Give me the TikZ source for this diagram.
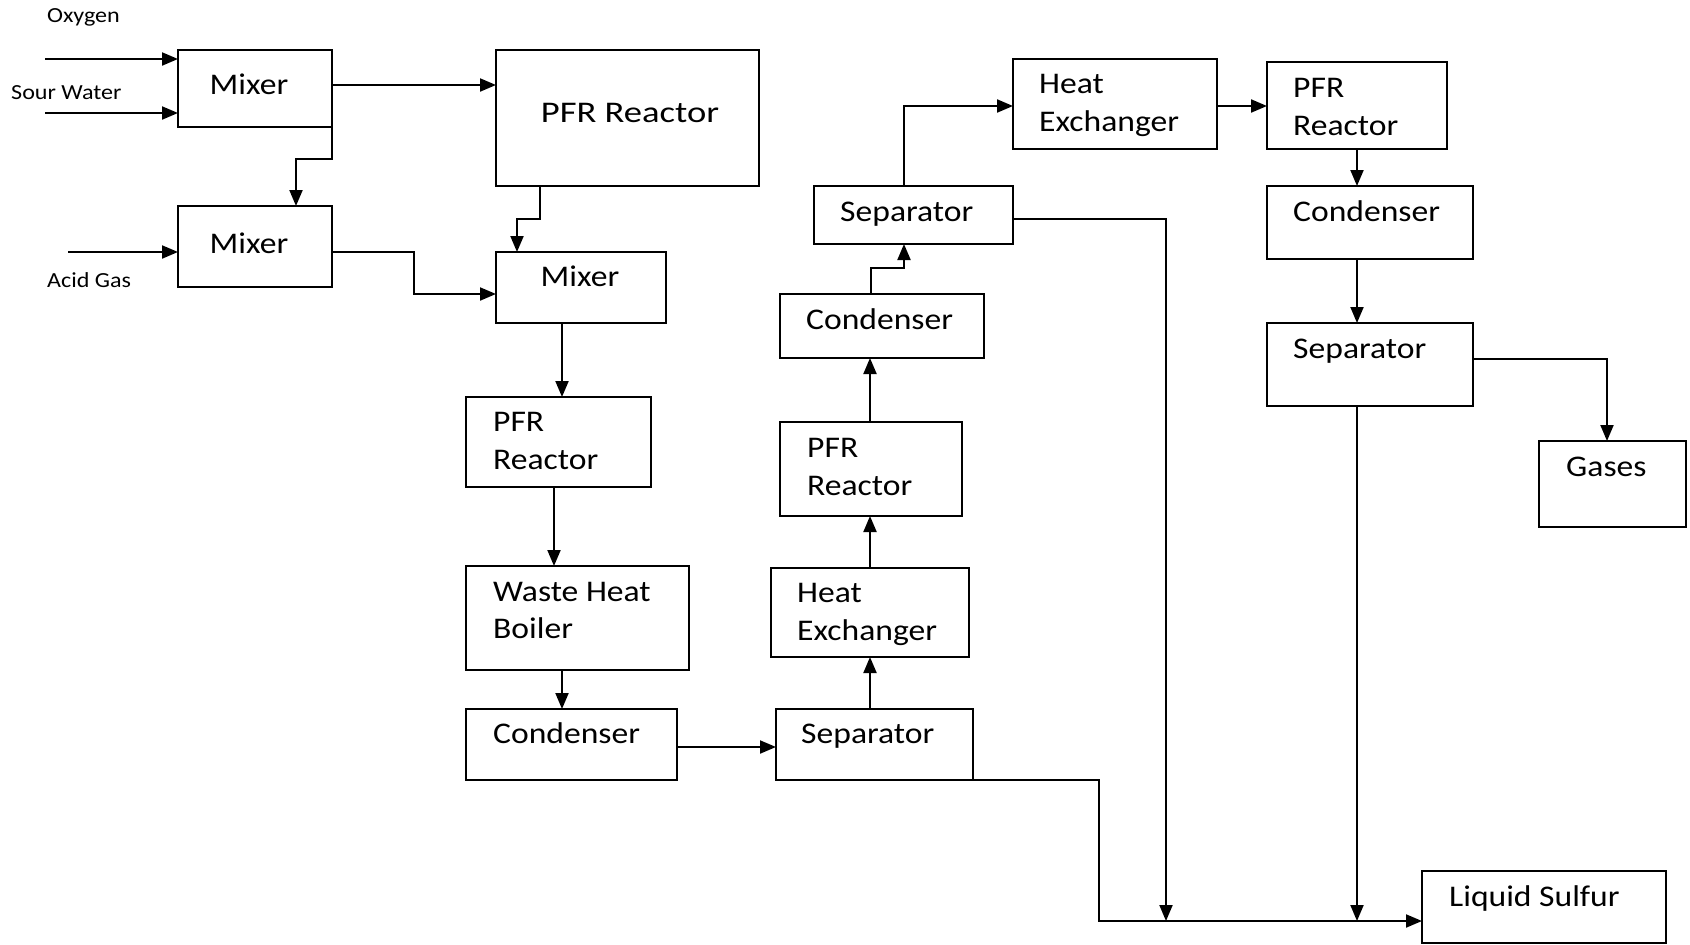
\documentclass[tikz,border=0pt]{standalone}
\usepackage{fontspec}
\setmainfont[FakeStretch=1.12]{Carlito}
\newfontfamily\widefont[FakeStretch=1.22]{Carlito}
\usetikzlibrary{arrows.meta,calc}
\tikzset{
  box/.style={draw=black, line width=2pt, rectangle, inner sep=0pt, outer sep=0pt, anchor=north west},
  txt/.style={anchor=base west, inner sep=0pt, font=\fontsize{30}{36}\selectfont},
  ctxt/.style={anchor=base, inner sep=0pt, font=\fontsize{30}{36}\selectfont},
  stxt/.style={anchor=base west, inner sep=0pt, font=\fontsize{21.5}{26}\selectfont},
  con/.style={line width=2pt, draw=black},
  arr/.style={con, -{Triangle[length=16pt,width=13pt]}}
}
\begin{document}
\begin{tikzpicture}[x=1pt,y=-1pt]
\useasboundingbox (0,0) rectangle (1690,945);
% boxes
\node[box, minimum width=154pt, minimum height=77pt] (m1) at (178,50) {};
\node[box, minimum width=154pt, minimum height=81pt] (m2) at (178,206) {};
\node[box, minimum width=263pt, minimum height=136pt] (pfr1) at (496,50) {};
\node[box, minimum width=170pt, minimum height=71pt] (m3) at (496,252) {};
\node[box, minimum width=185pt, minimum height=90pt] (pfr2) at (466,397) {};
\node[box, minimum width=223pt, minimum height=104pt] (whb) at (466,566) {};
\node[box, minimum width=211pt, minimum height=71pt] (c1) at (466,709) {};
\node[box, minimum width=197pt, minimum height=71pt] (s1) at (776,709) {};
\node[box, minimum width=198pt, minimum height=89pt] (hx1) at (771,568) {};
\node[box, minimum width=182pt, minimum height=94pt] (pfr3) at (780,422) {};
\node[box, minimum width=204pt, minimum height=64pt] (c2) at (780,294) {};
\node[box, minimum width=199pt, minimum height=58pt] (s2) at (814,186) {};
\node[box, minimum width=204pt, minimum height=90pt] (hx2) at (1013,59) {};
\node[box, minimum width=180pt, minimum height=87pt] (pfr4) at (1267,62) {};
\node[box, minimum width=206pt, minimum height=73pt] (c3) at (1267,186) {};
\node[box, minimum width=206pt, minimum height=83pt] (s3) at (1267,323) {};
\node[box, minimum width=147pt, minimum height=86pt] (gas) at (1539,441) {};
\node[box, minimum width=244pt, minimum height=72pt] (ls) at (1422,871) {};
% texts
\node[stxt] (tox) at (47,22) {Oxygen};
\node[stxt] (tsw) at (11,99) {Sour Water};
\node[stxt] (tag) at (47,287) {Acid Gas};
\node[ctxt] (tm1) at (249,94) {Mixer};
\node[ctxt] (tm2) at (249,253) {Mixer};
\node[ctxt, font=\widefont\fontsize{30}{36}\selectfont] (tpfr1) at (630,122) {PFR Reactor};
\node[ctxt] (tm3) at (580,286) {Mixer};
\node[txt] (tpfr2a) at (493,431) {PFR};
\node[txt] (tpfr2b) at (493,469) {Reactor};
\node[txt] (twhba) at (493,601) {Waste Heat};
\node[txt] (twhbb) at (493,638) {Boiler};
\node[txt] (tc1) at (493,743) {Condenser};
\node[txt] (ts1) at (801,743) {Separator};
\node[txt] (thx1a) at (797,602) {Heat};
\node[txt] (thx1b) at (797,640) {Exchanger};
\node[txt] (tpfr3a) at (807,457) {PFR};
\node[txt] (tpfr3b) at (807,495) {Reactor};
\node[txt] (tc2) at (806,329) {Condenser};
\node[txt] (ts2) at (840,221) {Separator};
\node[txt] (thx2a) at (1039,93) {Heat};
\node[txt] (thx2b) at (1039,131) {Exchanger};
\node[txt] (tpfr4a) at (1293,97) {PFR};
\node[txt] (tpfr4b) at (1293,135) {Reactor};
\node[txt] (tc3) at (1293,221) {Condenser};
\node[txt] (ts3) at (1293,358) {Separator};
\node[txt] (tgas) at (1566,476) {Gases};
\node[txt] (tls) at (1449,906) {Liquid Sulfur};
% free ends and junctions
\coordinate (oxs) at (45,59);
\coordinate (sws) at (45,113);
\coordinate (ags) at (68,252);
\coordinate (ja) at (1099,921);
\coordinate (jb) at (1166,921);
\coordinate (jc) at (1357,921);
% connectors
\draw[arr] (oxs) -- (m1.west |- oxs);
\draw[arr] (sws) -- (m1.west |- sws);
\draw[arr] (ags) -- (m2.west |- ags);
\draw[arr] ($(m1.north east)+(0,35)$) -- ($(pfr1.north west)+(0,35)$);
\draw[arr] (m1.south east) -- ++(0,32) -| ($(m2.north west)+(118,0)$);
\draw[arr] (m2.east |- ags) -- ++(82,0) |- ($(m3.north west)+(0,42)$);
\draw[arr] ($(pfr1.south west)+(44,0)$) -- ++(0,33) -| ($(m3.north west)+(21,0)$);
\draw[arr] ($(m3.south west)+(66,0)$) -- ($(pfr2.north west)+(96,0)$);
\draw[arr] ($(pfr2.south west)+(88,0)$) -- ($(whb.north west)+(88,0)$);
\draw[arr] ($(whb.south west)+(96,0)$) -- ($(c1.north west)+(96,0)$);
\draw[arr] ($(c1.north east)+(0,38)$) -- ($(s1.north west)+(0,38)$);
\draw[arr] ($(s1.north west)+(94,0)$) -- ($(hx1.south west)+(99,0)$);
\draw[arr] ($(hx1.north west)+(99,0)$) -- ($(pfr3.south west)+(90,0)$);
\draw[arr] ($(pfr3.north west)+(90,0)$) -- ($(c2.south west)+(90,0)$);
\draw[arr] ($(c2.north west)+(91,0)$) -- ++(0,-26) -| ($(s2.south west)+(90,0)$);
\draw[arr] ($(s2.north west)+(90,0)$) |- ($(hx2.north west)+(0,47)$);
\draw[arr] ($(hx2.north east)+(0,47)$) -- ($(pfr4.north west)+(0,44)$);
\draw[arr] ($(pfr4.south west)+(90,0)$) -- ($(c3.north west)+(90,0)$);
\draw[arr] ($(c3.south west)+(90,0)$) -- ($(s3.north west)+(90,0)$);
\draw[arr] ($(s3.north east)+(0,36)$) -| ($(gas.north west)+(68,0)$);
\draw[arr] ($(s3.south west)+(90,0)$) -- (jc);
\draw[arr] ($(s2.north east)+(0,33)$) -| (jb);
\draw[arr] (s1.south east) -| (ja) -- (ls.west |- ja);
\end{tikzpicture}
\end{document}
